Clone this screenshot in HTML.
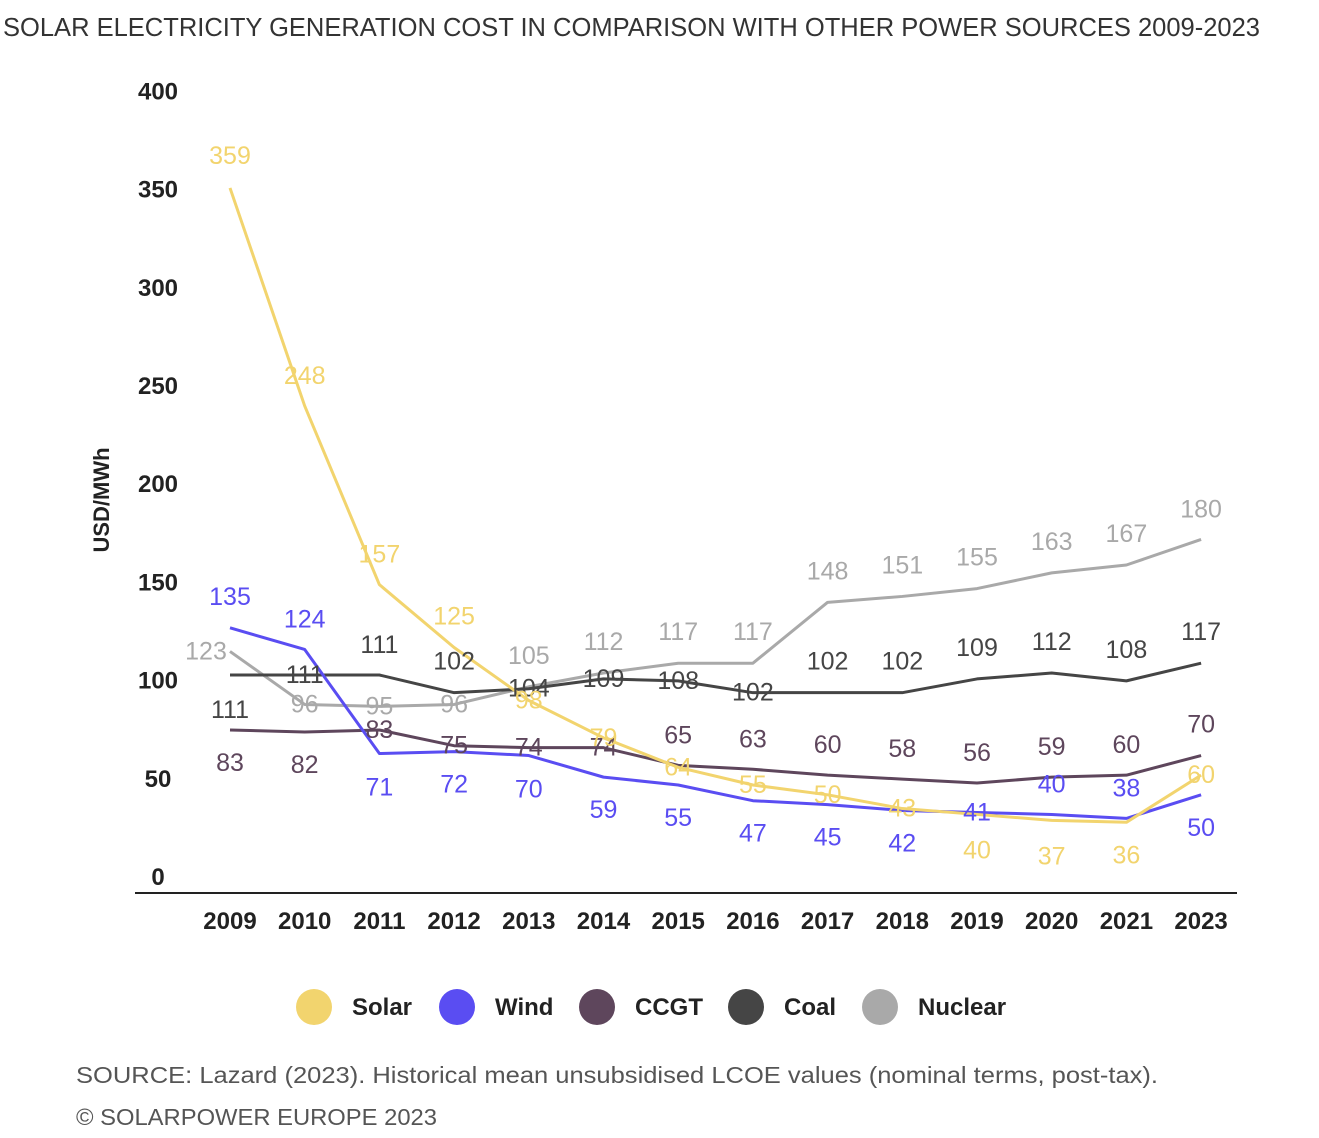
<!DOCTYPE html>
<html><head><meta charset="utf-8"><style>
body{margin:0;background:#fff;width:1319px;height:1133px;overflow:hidden;font-family:"Liberation Sans",sans-serif}
</style></head><body>
<svg id="chart" width="1319" height="1133" xmlns="http://www.w3.org/2000/svg" style="font-family:'Liberation Sans',sans-serif">
<text x="3" y="36" font-size="26" fill="#333" textLength="1257" lengthAdjust="spacingAndGlyphs">SOLAR ELECTRICITY GENERATION COST IN COMPARISON WITH OTHER POWER SOURCES 2009-2023</text>
<text transform="translate(109,500) rotate(-90)" text-anchor="middle" font-size="22" font-weight="bold" fill="#222">USD/MWh</text>
<line x1="135" y1="893" x2="1237" y2="893" stroke="#222" stroke-width="2"/>
<g id="yticks"></g><g id="xticks"></g><g id="lines"></g><g id="labels"></g>
<g id="legend"></g>
<text x="76" y="1083" font-size="23" fill="#555" textLength="1082" lengthAdjust="spacingAndGlyphs">SOURCE: Lazard (2023). Historical mean unsubsidised LCOE values (nominal terms, post-tax).</text>
<text x="76" y="1125" font-size="23" fill="#555" textLength="361" lengthAdjust="spacingAndGlyphs">© SOLARPOWER EUROPE 2023</text>
</svg>
<script>
const years=["2009","2010","2011","2012","2013","2014","2015","2016","2017","2018","2019","2020","2021","2023"];
const yTicks=[0,50,100,150,200,250,300,350,400];
const solar=[359,248,157,125,98,79,64,55,50,43,40,37,36,60];
const wind=[135,124,71,72,70,59,55,47,45,42,41,40,38,50];
const ccgt=[83,82,83,75,74,74,65,63,60,58,56,59,60,70];
const coal=[111,111,111,102,104,109,108,102,102,102,109,112,108,117];
const nuclear=[123,96,95,96,105,112,117,117,148,151,155,163,167,180];
const seriesNames=["Solar","Wind","CCGT","Coal","Nuclear"];
const NS="http://www.w3.org/2000/svg";
const X=i=>230+i*74.7;
const Y=v=>893-v*1.964;
const colors=["#f2d46e","#5a4df2","#5e465c","#454545","#a9a9a9"];
const series=[solar,wind,ccgt,coal,nuclear];
const dys=[
[-32,-30,-30,-31,0,0,0,0,0,0,36,36,33,0],
[-31,-30,34,33,34,33,33,33,33,33,0,-30,-30,33],
[33,33,0,0,0,0,-30,-30,-30,-30,-30,-30,-30,-31],
[35,0,-30,-31,0,0,0,0,-31,-31,-31,-31,-31,-31],
[0,0,0,0,-31,-31,-31,-31,-31,-31,-31,-31,-31,-30]];
function mk(t,a,p){const e=document.createElementNS(NS,t);for(const k in a)e.setAttribute(k,a[k]);p.appendChild(e);return e;}
const yt=document.getElementById('yticks');
yTicks.forEach(v=>{const t=mk('text',{x:158,y:Y(v)-8,'text-anchor':'middle','font-size':24,'font-weight':'bold',fill:'#222'},yt);t.textContent=v;

});
const xt=document.getElementById('xticks');
years.forEach((y,i)=>{const t=mk('text',{x:X(i),y:929,'text-anchor':'middle','font-size':24,'font-weight':'bold',fill:'#222'},xt);t.textContent=y;

});
const lg=document.getElementById('lines'),lb=document.getElementById('labels');
[4,3,2,1,0].forEach(s=>{
 const d=series[s].map((v,i)=>(i?'L':'M')+X(i)+','+Y(v)).join(' ');
 const p=mk('path',{d:d,fill:'none',stroke:colors[s],'stroke-width':3,'stroke-linejoin':'round'},lg);
 
 
 series[s].forEach((v,i)=>{
  const x=(s===4&&i===0)?X(i)-24:X(i);
  const t=mk('text',{x:x,y:Y(v)+dys[s][i]+8,'text-anchor':'middle','font-size':25,fill:colors[s]},lb);
  t.textContent=v;
  
  
 });
});
const lgd=document.getElementById('legend');
const lx=[314,457,597,746,880];
seriesNames.forEach((n,i)=>{
 const g=mk('g',{},lgd);
 
 
 mk('circle',{cx:lx[i],cy:1007,r:18,fill:colors[i]},g);
 const t=mk('text',{x:lx[i]+38,y:1015,'font-size':24,'font-weight':'bold',fill:'#222'},g);t.textContent=n;
});
</script>
</body></html>
